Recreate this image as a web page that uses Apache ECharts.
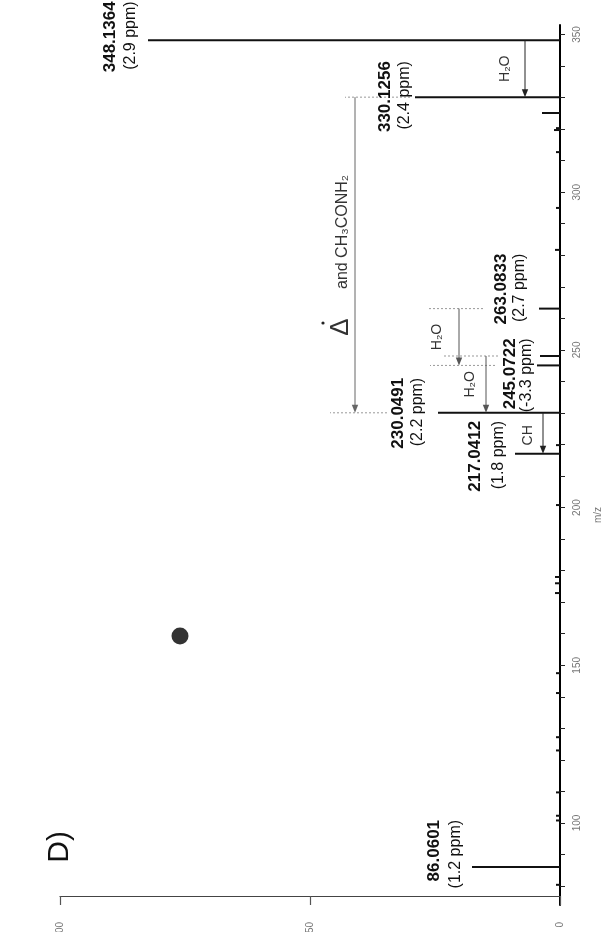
<!DOCTYPE html>
<html>
<head>
<meta charset="utf-8">
<script src="https://cdn.jsdelivr.net/npm/echarts@6/dist/echarts.min.js"></script>
<style>
html,body{margin:0;padding:0;background:#fff;}
#chart{width:604px;height:932px;}
</style>
</head>
<body>
<div id="chart"></div>
<script>
// ---- data ----
const peakMz = [348.1364, 330.1256, 263.0833, 245.0722, 230.0491, 217.0412, 86.0601];
const peakIntensity = [82.4, 29, 4.2, 4.6, 24.4, 9, 17.6];
const peakLabel = ['348.1364', '330.1256', '263.0833', '245.0722', '230.0491', '217.0412', '86.0601'];
const peakPpm = ['(2.9 ppm)', '(2.4 ppm)', '(2.7 ppm)', '(-3.3 ppm)', '(2.2 ppm)', '(1.8 ppm)', '(1.2 ppm)'];

const minorMz = [325.1, 320.3, 319.7, 312.7, 295.0, 281.7, 248.06, 219.8, 200.8, 178.0, 176.0, 172.9, 147.5, 141.2, 127.2, 123.0, 109.7, 102.3, 100.8, 80.4];
const minorIntensity = [3.6, 0.8, 1.2, 0.8, 0.8, 1.0, 4.0, 0.8, 0.8, 1.0, 1.0, 1.0, 0.8, 0.8, 0.8, 0.8, 0.8, 0.8, 0.8, 0.8];

const precursorMz = [159.3];
const precursorIntensity = [76];

// neutral losses: from m/z, to m/z, intensity at which the arrow is drawn
const lossFrom = [348.1364, 330.1256, 263.0833, 248.06, 230.0491];
const lossTo = [330.1256, 230.0491, 245.0722, 230.0491, 217.0412];
const lossAt = [7, 41, 20.2, 14.8, 3.4];
const lossName = ['H₂O', 'Δ', 'H₂O', 'H₂O', 'CH'];

// dotted guides: m/z, intensity range
const guideMz = [330.1256, 230.0491, 263.0833, 248.06, 245.0722];
const guideFrom = [30, 34.6, 15.4, 12.4, 13];
const guideTo = [43, 46, 26.6, 23.6, 26];

const mzTicks = [100, 150, 200, 250, 300, 350];
const mzMinorTicks = [80, 90, 100, 110, 120, 130, 140, 150, 160, 170, 180, 190, 200, 210, 220, 230, 240, 250, 260, 270, 280, 290, 300, 310, 320, 330, 340, 350];
const intensityTicks = [0, 50, 100];

// ---- layout (pixel offsets, not data) ----
const FONT = "'Liberation Sans', Arial, sans-serif";
const labelLayout = [
  {numDx: -450, ppmDx: -429, dy: -39, numSize: 17, ppmSize: 16},
  {numDx: -175, ppmDx: -155, dy: -36, numSize: 17, ppmSize: 16},
  {numDx: -59, ppmDx: -40, dy: -55, numSize: 17, ppmSize: 16},
  {numDx: -50, ppmDx: -33, dy: -27, numSize: 17, ppmSize: 16},
  {numDx: -162, ppmDx: -142, dy: -35, numSize: 17, ppmSize: 16},
  {numDx: -85, ppmDx: -61, dy: -33, numSize: 17, ppmSize: 16},
  {numDx: -126, ppmDx: -104, dy: -47, numSize: 17, ppmSize: 16}
];
const lossLayout = [
  {dx: -20, dy: 0, color: '#222', textColor: '#333', size: 14},
  {dx: -14, dy: 72, color: '#666', textColor: '#333', size: 26},
  {dx: -22, dy: 0, color: '#555', textColor: '#333', size: 14},
  {dx: -16, dy: 0, color: '#555', textColor: '#333', size: 14},
  {dx: -15, dy: 2, color: '#222', textColor: '#333', size: 14}
];

function vtext(x, y, text, font, fill, align) {
  return {
    type: 'text', x: x, y: y, rotation: Math.PI / 2,
    style: {text: text, font: font, fill: fill, align: align, verticalAlign: 'middle',
            textAlign: align, textVerticalAlign: 'middle'}
  };
}

const stems = peakMz.map((m, i) => [peakIntensity[i], m]).concat(minorMz.map((m, i) => [minorIntensity[i], m]));

const chart = echarts.init(document.getElementById('chart'), null, {renderer: 'canvas'});
chart.setOption({
  animation: false,
  backgroundColor: '#fff',
  grid: {left: 60, right: 44, top: 25, bottom: 27, containLabel: false, outerBoundsMode: 'none'},
  xAxis: {
    type: 'value', inverse: true, min: 0, max: 100, offset: -9,
    axisLine: {show: true, lineStyle: {color: '#444', width: 1.2}},
    axisTick: {show: true, length: 9, lineStyle: {color: '#555', width: 1.2}, customValues: intensityTicks},
    axisLabel: {show: true, rotate: 90, margin: 26, fontSize: 10, color: '#777', fontFamily: FONT, customValues: intensityTicks},
    splitLine: {show: false}
  },
  yAxis: {
    type: 'value', position: 'right', min: 74, max: 353,
    axisLine: {show: true, lineStyle: {color: '#000', width: 2}},
    axisTick: {show: true, length: 5, lineStyle: {color: '#222', width: 1}, customValues: mzMinorTicks},
    axisLabel: {show: true, rotate: 90, margin: 12, fontSize: 10, color: '#777', fontFamily: FONT, customValues: mzTicks},
    splitLine: {show: false}
  },
  graphic: [
    {type: 'text', x: 60, y: 831, rotation: Math.PI / 2,
     style: {text: 'D)', font: '30px ' + FONT, fill: '#111', align: 'right', verticalAlign: 'middle'}},
    {type: 'text', x: 598, y: 515, rotation: Math.PI / 2,
     style: {text: 'm/z', font: '10px ' + FONT, fill: '#777', align: 'center', verticalAlign: 'middle'}}
  ],
  series: [
    {
      type: 'custom', name: 'guides',
      data: guideMz.map((m, i) => [guideFrom[i], m, guideTo[i]]),
      encode: {x: [0, 2], y: 1},
      renderItem: function (params, api) {
        const a = api.coord([api.value(0), api.value(1)]);
        const b = api.coord([api.value(2), api.value(1)]);
        return {type: 'line', shape: {x1: a[0], y1: a[1], x2: b[0], y2: b[1]},
                style: {stroke: '#999', lineWidth: 1, lineDash: [2, 2]}};
      }
    },
    {
      type: 'custom', name: 'stems',
      data: stems,
      encode: {x: 0, y: 1},
      renderItem: function (params, api) {
        const a = api.coord([0, api.value(1)]);
        const b = api.coord([api.value(0), api.value(1)]);
        return {type: 'line', shape: {x1: a[0], y1: a[1], x2: b[0], y2: b[1]},
                style: {stroke: '#111', lineWidth: 2}};
      }
    },
    {
      type: 'custom', name: 'peakLabels',
      data: peakMz.map((m, i) => [peakIntensity[i], m, i]),
      encode: {x: 0, y: 1},
      renderItem: function (params, api) {
        const i = api.value(2);
        const base = api.coord([0, api.value(1)]);
        const L = labelLayout[i];
        const top = base[1] + L.dy;
        return {type: 'group', children: [
          vtext(base[0] + L.numDx, top, peakLabel[i], 'bold ' + L.numSize + 'px ' + FONT, '#111', 'right'),
          vtext(base[0] + L.ppmDx, top, peakPpm[i], L.ppmSize + 'px ' + FONT, '#111', 'right')
        ]};
      }
    },
    {
      type: 'custom', name: 'losses',
      data: lossFrom.map((m, i) => [lossAt[i], m, lossTo[i], i]),
      encode: {x: 0, y: [1, 2]},
      renderItem: function (params, api) {
        const i = api.value(3);
        const a = api.coord([api.value(0), api.value(1)]);
        const b = api.coord([api.value(0), api.value(2)]);
        const L = lossLayout[i];
        const head = 8;
        const children = [
          {type: 'line', shape: {x1: a[0], y1: a[1], x2: b[0], y2: b[1] - head + 1},
           style: {stroke: L.color, lineWidth: 1}},
          {type: 'polygon', shape: {points: [[b[0], b[1]], [b[0] - 3.2, b[1] - head], [b[0] + 3.2, b[1] - head]]},
           style: {fill: L.color}}
        ];
        const cx = a[0] + L.dx;
        const cy = (a[1] + b[1]) / 2 + L.dy;
        children.push(vtext(cx, cy, lossName[i], '300 ' + L.size + 'px ' + FONT, L.textColor, 'center'));
        if (i === 1) {
          children.push({type: 'circle', shape: {cx: cx - 18, cy: cy - 4, r: 1.6}, style: {fill: '#222'}});
          children.push(vtext(a[0] - 12, (a[1] + b[1]) / 2 - 23, 'and CH₃CONH₂', '16px ' + FONT, '#333', 'center'));
        }
        return {type: 'group', children: children};
      }
    },
    {
      type: 'scatter', name: 'precursor',
      data: precursorMz.map((m, i) => [precursorIntensity[i], m]),
      symbol: 'circle', symbolSize: 17,
      itemStyle: {color: '#000'}
    }
  ]
});
</script>
</body>
</html>
